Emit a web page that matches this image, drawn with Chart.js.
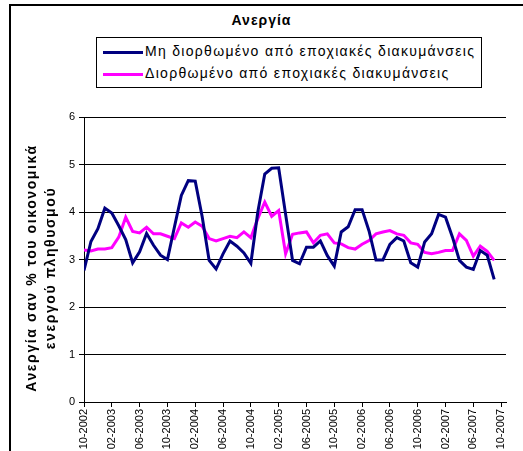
<!DOCTYPE html>
<html>
<head>
<meta charset="utf-8">
<script src="https://cdn.jsdelivr.net/npm/chart.js@4.4.1/dist/chart.umd.min.js"></script>
<style>
  body { margin: 0; background: #fff; font-family: 'Liberation Sans', Arial, sans-serif; }
  #wrap { position: relative; width: 523px; height: 451px; overflow: hidden; }
  #frame { position: absolute; left: 9px; top: 4px; width: 600px; height: 600px;
           border-left: 2px solid #000; border-top: 2px solid #000; }
  #title { position: absolute; left: 0; width: 523px; top: 12px; text-align: center;
           font-weight: bold; font-size: 14px; letter-spacing: 1px; color: #000; }
  #legend { position: absolute; left: 96px; top: 37px; width: 386px; height: 51px;
            border: 1px solid #000; box-sizing: border-box; font-size: 14px; color: #000; }
  .row { position: absolute; left: 6px; height: 18px; line-height: 18px; white-space: nowrap; letter-spacing: 1.3px; }
  .sample { display: inline-block; width: 40px; height: 3px; vertical-align: middle; margin-right: 2px; }
  #ytitle { position: absolute; left: -109px; top: 249px; width: 300px; height: 38px; line-height: 19px;
            text-align: center; font-weight: bold; font-size: 14px; letter-spacing: 1.6px; color: #000;
            transform: rotate(-90deg); transform-origin: 150px 19px; white-space: nowrap; }
  canvas { position: absolute; left: 0; top: 0; }
</style>
</head>
<body>
<div id="wrap">
  <div id="frame"></div>
  <div id="title">Ανεργία</div>
  <div id="legend">
    <div class="row" style="top:4px"><span class="sample" style="background:#000080"></span>Μη διορθωμένο από εποχιακές διακυμάνσεις</div>
    <div class="row" style="top:26px"><span class="sample" style="background:#ff00ff"></span>Διορθωμένο από εποχιακές διακυμάνσεις</div>
  </div>
  <canvas id="chart" width="523" height="451"></canvas>
  <div id="ytitle">Ανεργία σαν % του οικονομικά<br>ενεργού πληθυσμού</div>
</div>
<script>
const tickLabels = ['10-2002', '02-2003', '06-2003', '10-2003', '02-2004', '06-2004', '10-2004', '02-2005',
                    '06-2005', '10-2005', '02-2006', '06-2006', '10-2006', '02-2007', '06-2007', '10-2007'];

// monthly values, 10-2002 .. 09-2007
const unadjusted = [2.77, 3.38, 3.65, 4.08, 3.98, 3.71, 3.42, 2.93, 3.16, 3.55, 3.30, 3.09,
                    3.00, 3.68, 4.35, 4.66, 4.65, 3.90, 2.98, 2.80, 3.12, 3.39, 3.28, 3.14,
                    2.92, 4.00, 4.80, 4.92, 4.93, 3.95, 2.98, 2.91, 3.26, 3.26, 3.39, 3.08,
                    2.86, 3.58, 3.69, 4.05, 4.05, 3.60, 2.99, 2.99, 3.32, 3.46, 3.39, 2.93,
                    2.84, 3.37, 3.54, 3.95, 3.89, 3.47, 2.98, 2.84, 2.79, 3.19, 3.09, 2.58];
const adjusted = [3.20, 3.18, 3.22, 3.22, 3.25, 3.47, 3.89, 3.59, 3.56, 3.68, 3.54, 3.54,
                  3.49, 3.44, 3.77, 3.68, 3.79, 3.70, 3.44, 3.39, 3.44, 3.49, 3.46, 3.58,
                  3.46, 3.86, 4.21, 3.91, 4.03, 3.12, 3.53, 3.56, 3.58, 3.35, 3.51, 3.54,
                  3.35, 3.33, 3.25, 3.22, 3.32, 3.40, 3.54, 3.58, 3.61, 3.54, 3.51, 3.35,
                  3.32, 3.15, 3.12, 3.15, 3.19, 3.19, 3.54, 3.40, 3.07, 3.28, 3.17, 2.98];

const monthsPerTick = 4;
const toPoints = arr => arr.map((v, i) => ({ x: i, y: v }));

const font = 'Liberation Sans';

new Chart(document.getElementById('chart'), {
    type: 'line',
    data: {
        datasets: [
            {
                label: 'Μη διορθωμένο από εποχιακές διακυμάνσεις',
                data: toPoints(unadjusted),
                borderColor: '#000080',
                borderWidth: 3,
                pointRadius: 0,
                tension: 0
            },
            {
                label: 'Διορθωμένο από εποχιακές διακυμάνσεις',
                data: toPoints(adjusted),
                borderColor: '#ff00ff',
                borderWidth: 3,
                pointRadius: 0,
                tension: 0
            }
        ]
    },
    options: {
        responsive: false,
        animation: false,
        layout: { padding: { left: 10, top: 117, right: 17, bottom: 0 } },
        plugins: {
            legend: { display: false },
            title: { display: false },
            tooltip: { enabled: false }
        },
        scales: {
            x: {
                type: 'linear',
                min: 0,
                max: 60.7,
                afterBuildTicks: s => {
                    s.ticks = tickLabels.map((_, k) => ({ value: k * monthsPerTick }));
                },
                afterFit: s => { s.height = 49; },
                grid: { drawOnChartArea: false, tickLength: 5, color: '#000' },
                border: { color: '#000', width: 1 },
                ticks: {
                    autoSkip: false,
                    minRotation: 90,
                    maxRotation: 90,
                    padding: 2,
                    color: '#000',
                    font: { family: font, size: 11 },
                    callback: v => tickLabels[Math.round(v / monthsPerTick)]
                }
            },
            y: {
                min: 0,
                max: 6,
                afterFit: s => { s.width = 74; },
                grid: { color: '#000', tickLength: 5 },
                border: { color: '#000', width: 1 },
                ticks: {
                    stepSize: 1,
                    padding: 4,
                    color: '#000',
                    font: { family: font, size: 11 }
                }
            }
        }
    }
});
</script>
</body>
</html>
